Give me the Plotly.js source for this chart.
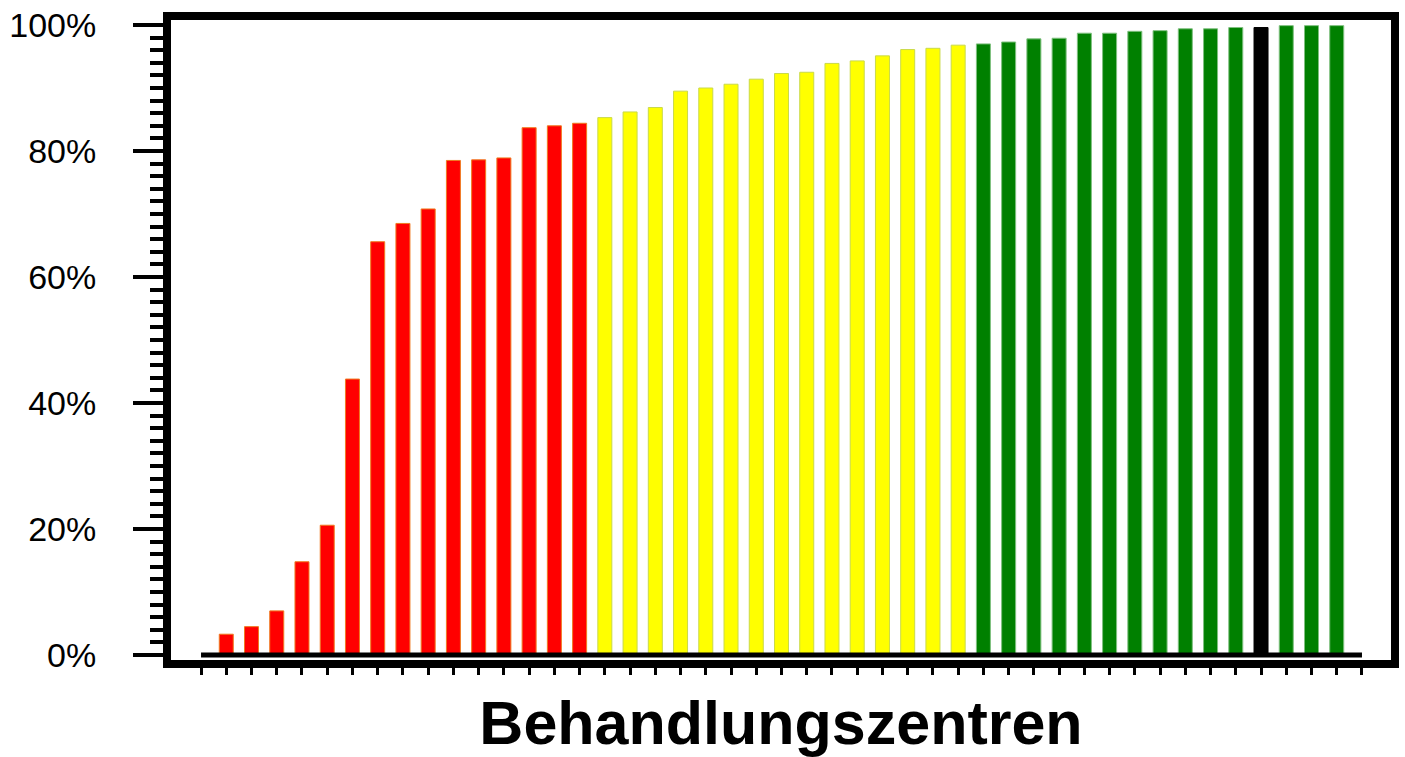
<!DOCTYPE html>
<html>
<head>
<meta charset="utf-8">
<script src="https://cdn.plot.ly/plotly-3.0.1.min.js"></script>
<style>html,body{margin:0;padding:0;background:#fff;}#chart{width:1405px;height:757px;}</style>
</head>
<body>
<div id="chart"></div>
<script>
// Cumulative share (%) per treatment centre, sorted ascending
const centres = [1,2,3,4,5,6,7,8,9,10,11,12,13,14,15,16,17,18,19,20,21,22,23,24,25,26,27,28,29,30,31,32,33,34,35,36,37,38,39,40,41,42,43,44,45];
const values = [3.3,4.5,7.0,14.8,20.6,43.8,65.6,68.5,70.8,78.5,78.6,78.9,83.7,84.0,84.4,
                85.3,86.2,86.9,89.5,90.0,90.6,91.4,92.3,92.5,93.9,94.3,95.1,96.1,96.3,96.8,
                97.0,97.3,97.8,97.9,98.7,98.7,99.0,99.1,99.4,99.4,99.6,99.6,99.9,99.9,99.9];
const groups = ['rot','rot','rot','rot','rot','rot','rot','rot','rot','rot','rot','rot','rot','rot','rot',
                'gelb','gelb','gelb','gelb','gelb','gelb','gelb','gelb','gelb','gelb','gelb','gelb','gelb','gelb','gelb',
                'gruen','gruen','gruen','gruen','gruen','gruen','gruen','gruen','gruen','gruen','gruen','schwarz','gruen','gruen','gruen'];
const yTickVals = [0,20,40,60,80,100];
const yTickText = ['0%','20%','40%','60%','80%','100%'];
const xTitle = 'Behandlungszentren';

const fill = {rot:'#ff0000', gelb:'#ffff00', gruen:'#008000', schwarz:'#000000'};
const edge = {rot:'#f07a20', gelb:'#c9d94a', gruen:'#7fc07f', schwarz:'#000000'};

const xTicks = [];
for (let i = 0; i <= centres.length + 1; i++) xTicks.push(i);

const bars = {
  type:'bar', x:centres, y:values,
  marker:{color:groups.map(g=>fill[g]), line:{color:groups.map(g=>edge[g]), width:1}},
  hoverinfo:'none', showlegend:false
};
const base = {
  type:'scatter', mode:'lines', x:[0, centres.length+1], y:[0,0],
  line:{color:'#000', width:5}, hoverinfo:'none', showlegend:false
};

const layout = {
  width:1405, height:757,
  margin:{l:171, r:14, t:20, b:97, pad:0},
  paper_bgcolor:'#fff', plot_bgcolor:'#fff',
  bargap:0.445,
  font:{family:'Liberation Sans, Arial, sans-serif', color:'#000'},
  xaxis:{
    range:[-1.19, 47.15], showgrid:false, zeroline:false,
    showline:true, linewidth:8, linecolor:'#000', mirror:true,
    ticks:'outside', tickvals:xTicks, ticklen:7, tickwidth:3, tickcolor:'#000',
    showticklabels:false,
    title:{text:'<b>'+xTitle+'</b>', font:{size:61, family:'Liberation Sans, Arial, sans-serif', color:'#000'}, standoff:32},
    automargin:false, fixedrange:true
  },
  yaxis:{
    range:[-0.794, 100.794], showgrid:false, zeroline:false,
    showline:true, linewidth:8, linecolor:'#000', mirror:true,
    ticks:'outside', tickvals:yTickVals, ticktext:yTickText, ticklen:30, tickwidth:4, tickcolor:'#000',
    minor:{dtick:2, ticks:'outside', ticklen:13, tickwidth:4, tickcolor:'#000', showgrid:false},
    tickfont:{size:34, family:'Liberation Sans, Arial, sans-serif', color:'#000'},
    ticklabelstandoff:30,
    automargin:false, fixedrange:true
  }
};

Plotly.newPlot('chart', [bars, base], layout, {staticPlot:true, displayModeBar:false});
</script>
</body>
</html>
